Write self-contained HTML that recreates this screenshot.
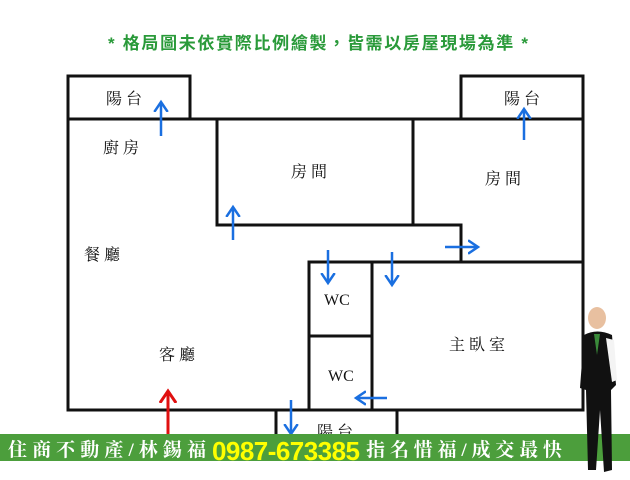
<!DOCTYPE html><html><head><style>body{margin:0;background:#fff;width:630px;height:480px;overflow:hidden}svg{display:block}</style></head><body>
<svg width="630" height="480" viewBox="0 0 630 480" xmlns="http://www.w3.org/2000/svg">
<defs><marker id="b" markerWidth="6" markerHeight="6" refX="4" refY="3" orient="auto" markerUnits="strokeWidth"><path d="M0,0.3 L4,3 L0,5.7" fill="none" stroke="#1a6fe0" stroke-width="1"/></marker>
<marker id="r" markerWidth="6" markerHeight="6" refX="4" refY="3" orient="auto" markerUnits="strokeWidth"><path d="M0,0.3 L4,3 L0,5.7" fill="none" stroke="#e01010" stroke-width="1"/></marker></defs>
<text x="318" y="49" text-anchor="middle" font-family="Liberation Sans,'Noto Sans CJK TC',sans-serif" font-weight="bold" font-size="17" fill="#2a9a3a" textLength="420">* 格局圖未依實際比例繪製，皆需以房屋現場為準 *</text>
<g fill="none" stroke="#111" stroke-width="3">
<rect x="68" y="76" width="122" height="43"/>
<rect x="461" y="76" width="122" height="43"/>
<rect x="68" y="119" width="515" height="291"/>
<polyline points="217,119 217,225 461,225 461,262"/>
<line x1="413" y1="119" x2="413" y2="225"/>
<polyline points="309,410 309,262 583,262"/>
<line x1="372" y1="262" x2="372" y2="410"/>
<line x1="309" y1="336" x2="372" y2="336"/>
<rect x="276" y="410" width="121" height="45"/>
</g>
<g font-family="'Liberation Serif','Noto Serif CJK SC',serif" font-size="16" fill="#111">
<text x="106" y="104">陽 台</text><text x="504" y="104">陽 台</text>
<text x="103" y="153">廚 房</text><text x="291" y="177">房 間</text><text x="485" y="184">房 間</text>
<text x="84" y="260">餐 廳</text><text x="159" y="360">客 廳</text>
<text x="324" y="305">WC</text><text x="328" y="381">WC</text>
<text x="449" y="350">主 臥 室</text><text x="317" y="437">陽 台</text>
</g>
<g stroke="#1a6fe0" stroke-width="2.5" fill="none">
<line x1="161" y1="136" x2="161" y2="102" marker-end="url(#b)"/>
<line x1="233" y1="240" x2="233" y2="207" marker-end="url(#b)"/>
<line x1="524" y1="140" x2="524" y2="109" marker-end="url(#b)"/>
<line x1="328" y1="250" x2="328" y2="283" marker-end="url(#b)"/>
<line x1="392" y1="252" x2="392" y2="285" marker-end="url(#b)"/>
<line x1="445" y1="247" x2="478" y2="247" marker-end="url(#b)"/>
<line x1="387" y1="398" x2="356" y2="398" marker-end="url(#b)"/>
<line x1="291" y1="400" x2="291" y2="434" marker-end="url(#b)"/>
</g>
<line x1="168" y1="436" x2="168" y2="391" stroke="#e01010" stroke-width="3" marker-end="url(#r)"/>
<rect x="0" y="434" width="630" height="27" fill="#4c9e3c"/>
<text x="8" y="456" font-family="'Liberation Serif','Noto Serif CJK TC',serif" font-size="19" font-weight="bold" fill="#fff" textLength="198">住商不動產/林錫福</text>
<text x="212" y="460" font-family="'Liberation Sans',sans-serif" font-size="26" font-weight="bold" fill="#ffff00" textLength="148">0987-673385</text>
<text x="366" y="456" font-family="'Liberation Serif','Noto Serif CJK TC',serif" font-size="19" font-weight="bold" fill="#fff" textLength="196">指名惜福/成交最快</text>
<g>
<ellipse cx="597" cy="318" rx="9" ry="11" fill="#e8c0a0"/>
<path d="M584,335 Q597,328 612,335 L616,385 L611,390 L612,470 L604,472 L600,410 L596,470 L588,470 L586,390 L580,388 Z" fill="#111"/>
<path d="M606,338 L614,340 L617,380 L612,382 Z" fill="#f4f4f4"/>
<path d="M594,334 L600,334 L597,355 Z" fill="#3a8a3a"/>
</g>
</svg>
</body></html>
